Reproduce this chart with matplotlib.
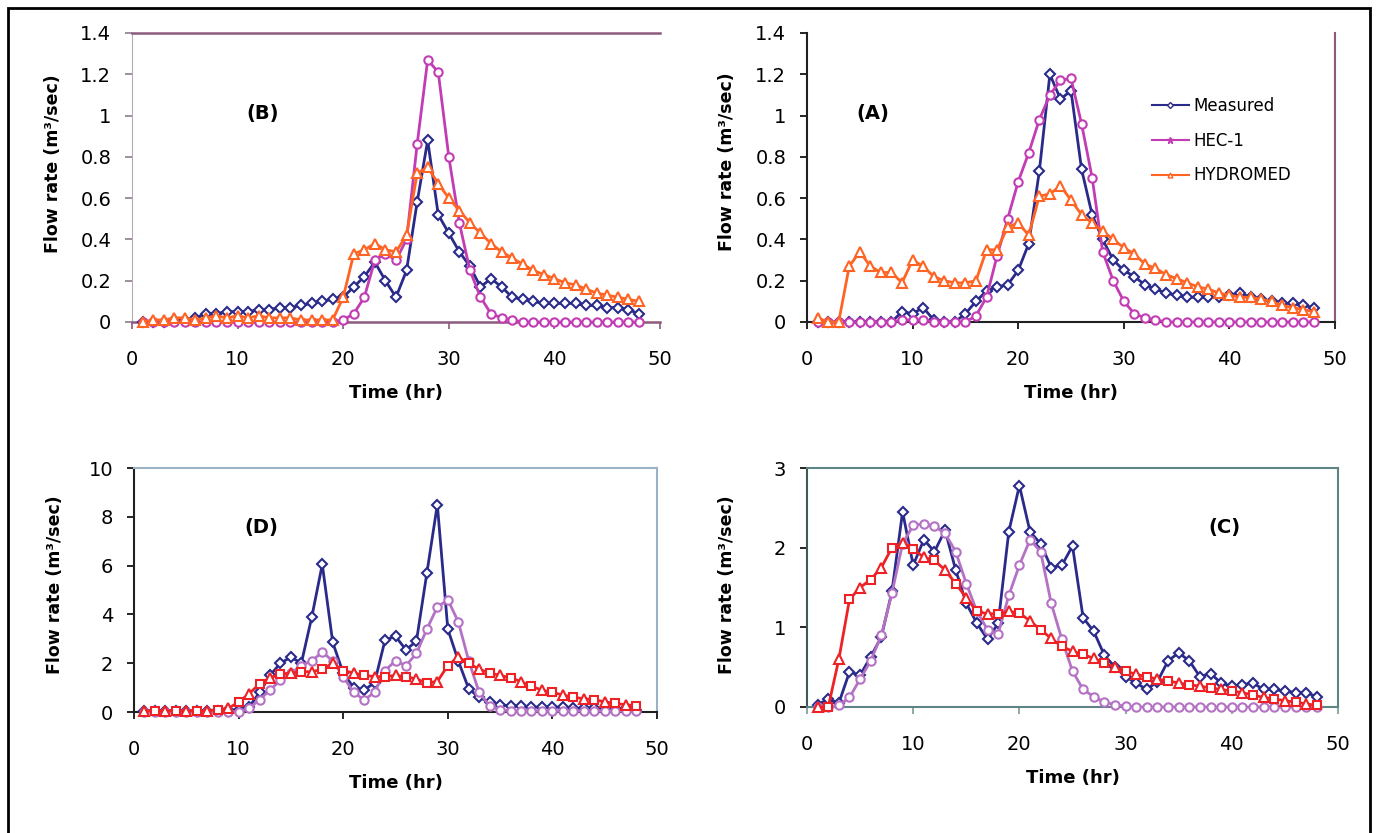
import numpy as np
import matplotlib
matplotlib.use('Agg')
import matplotlib.pyplot as plt
from matplotlib.lines import Line2D

plt.rcParams['font.family'] = ['DejaVu Sans']

time = np.arange(1, 49)

# (B) top left
b_measured = [0.00, 0.00, 0.00, 0.01, 0.01, 0.02, 0.04, 0.04, 0.05, 0.05,
              0.05, 0.06, 0.06, 0.07, 0.07, 0.08, 0.09, 0.10, 0.11, 0.12,
              0.17, 0.22, 0.29, 0.20, 0.12, 0.25, 0.58, 0.88, 0.52, 0.43,
              0.34, 0.27, 0.17, 0.21, 0.17, 0.12, 0.11, 0.10, 0.09, 0.09,
              0.09, 0.09, 0.08, 0.08, 0.07, 0.07, 0.06, 0.04]
b_hec = [0.00] * 19 + [0.01, 0.04, 0.12, 0.30, 0.33, 0.30, 0.40, 0.86, 1.27, 1.21,
                       0.80, 0.48, 0.25, 0.12, 0.04, 0.02, 0.01] + [0.00] * 12
b_hydromed = [0.00, 0.01, 0.01, 0.02, 0.02, 0.01, 0.02, 0.03, 0.02, 0.03,
              0.02, 0.03, 0.02, 0.02, 0.02, 0.01, 0.01, 0.01, 0.01, 0.12,
              0.33, 0.35, 0.38, 0.35, 0.34, 0.42, 0.72, 0.75, 0.67, 0.60,
              0.54, 0.48, 0.43, 0.38, 0.34, 0.31, 0.28, 0.25, 0.23, 0.21,
              0.19, 0.18, 0.16, 0.14, 0.13, 0.12, 0.11, 0.10]

# (A) top right
a_measured = [0.00] * 8 + [0.05, 0.04, 0.07, 0.01, 0.00, 0.00, 0.04, 0.10, 0.15, 0.17,
                           0.18, 0.25, 0.38, 0.73, 1.20, 1.08, 1.12, 0.74, 0.52, 0.40,
                           0.30, 0.25, 0.22, 0.18, 0.16, 0.14, 0.13, 0.12, 0.12, 0.12,
                           0.12, 0.13, 0.14, 0.12, 0.11, 0.10, 0.09, 0.09, 0.08, 0.07]
a_hec = [0.00] * 8 + [0.01, 0.01, 0.01, 0.00, 0.00, 0.00, 0.00, 0.03, 0.12, 0.32,
                      0.50, 0.68, 0.82, 0.98, 1.10, 1.17, 1.18, 0.96, 0.70, 0.34,
                      0.20, 0.10, 0.04, 0.02, 0.01] + [0.00] * 15
a_hydromed = [0.02, 0.00, 0.00, 0.27, 0.34, 0.27, 0.24, 0.24, 0.19, 0.30,
              0.27, 0.22, 0.20, 0.19, 0.19, 0.20, 0.35, 0.35, 0.46, 0.48,
              0.42, 0.61, 0.62, 0.66, 0.59, 0.52, 0.48, 0.44, 0.40, 0.36,
              0.33, 0.28, 0.26, 0.23, 0.21, 0.19, 0.17, 0.16, 0.14, 0.13,
              0.12, 0.12, 0.11, 0.10, 0.08, 0.07, 0.06, 0.05]

# (D) bottom left
d_measured = [0.05, 0.05, 0.05, 0.05, 0.05, 0.05, 0.05, 0.05, 0.08, 0.10,
              0.20, 0.80, 1.50, 2.00, 2.25, 2.00, 3.90, 6.05, 2.85, 1.60,
              1.00, 0.90, 1.20, 2.95, 3.10, 2.55, 2.90, 5.70, 8.50, 3.40,
              2.10, 0.95, 0.60, 0.40, 0.30, 0.25, 0.25, 0.20, 0.20, 0.20,
              0.20, 0.15, 0.15, 0.15, 0.15, 0.15, 0.15, 0.10]
d_hec = [0.00] * 9 + [0.02, 0.15, 0.50, 0.90, 1.30, 1.60, 1.90, 2.10, 2.45, 2.10,
                      1.45, 0.80, 0.50, 0.80, 1.70, 2.10, 1.90, 2.40, 3.40, 4.30,
                      4.60, 3.70, 2.10, 0.80, 0.25, 0.10] + [0.05] * 13
d_hydromed = [0.05, 0.05, 0.05, 0.05, 0.05, 0.05, 0.05, 0.10, 0.15, 0.40,
              0.75, 1.15, 1.40, 1.55, 1.60, 1.65, 1.65, 1.75, 2.00, 1.70,
              1.60, 1.50, 1.45, 1.45, 1.50, 1.45, 1.35, 1.20, 1.25, 1.90,
              2.25, 2.00, 1.75, 1.60, 1.50, 1.40, 1.25, 1.05, 0.90, 0.80,
              0.70, 0.60, 0.55, 0.50, 0.42, 0.35, 0.30, 0.25]

# (C) bottom right
c_measured = [0.03, 0.10, 0.05, 0.44, 0.40, 0.63, 0.88, 1.45, 2.45, 1.78,
              2.10, 1.95, 2.22, 1.72, 1.30, 1.05, 0.85, 1.05, 2.20, 2.78,
              2.20, 2.05, 1.75, 1.78, 2.02, 1.12, 0.95, 0.65, 0.50, 0.38,
              0.30, 0.22, 0.32, 0.58, 0.68, 0.58, 0.38, 0.42, 0.30, 0.26,
              0.28, 0.30, 0.22, 0.22, 0.20, 0.18, 0.18, 0.13]
c_hec = [0.00, 0.00, 0.02, 0.12, 0.35, 0.58, 0.90, 1.43, 2.05, 2.28,
         2.30, 2.27, 2.18, 1.95, 1.55, 1.20, 0.97, 0.92, 1.40, 1.78,
         2.10, 1.95, 1.30, 0.85, 0.45, 0.22, 0.13, 0.06, 0.03, 0.01] + [0.00] * 18
c_hydromed = [0.00, 0.00, 0.60, 1.35, 1.50, 1.60, 1.75, 2.00, 2.06, 1.98,
              1.88, 1.84, 1.72, 1.55, 1.37, 1.20, 1.17, 1.17, 1.20, 1.18,
              1.08, 0.97, 0.86, 0.76, 0.70, 0.66, 0.61, 0.55, 0.50, 0.45,
              0.41, 0.38, 0.35, 0.33, 0.30, 0.28, 0.26, 0.24, 0.22, 0.20,
              0.18, 0.15, 0.12, 0.10, 0.08, 0.06, 0.04, 0.02]

series_names = ['Measured', 'HEC-1', 'HYDROMED']

navy = '#2a2a8a'
magenta = '#c23cb4'
orange = '#ff6424'
violet = '#b472c4'
red = '#ee2226'
maroon = '#8c5a7c'

W, H = 1378, 833
fig = plt.figure(figsize=(W / 100, H / 100), dpi=100)


def px_axes(left, top, right, bottom):
    return fig.add_axes([left / W, 1 - bottom / H, (right - left) / W, (bottom - top) / H])


def draw(ax, meas, hec, hyd, hec_col, hyd_col, mixed=False):
    ax.plot(time, meas, '-', color=navy, lw=2, marker='D', ms=5.5,
            mfc='white', mec=navy, mew=1.5, clip_on=False, zorder=3)
    ax.plot(time, hec, '-', color=hec_col, lw=2, marker='o', ms=6,
            mfc='white', mec=hec_col, mew=1.5, clip_on=False, zorder=3)
    if mixed:
        ax.plot(time, hyd, '-', color=hyd_col, lw=2, marker='^', ms=6.5,
                mfc='white', mec=hyd_col, mew=1.5, markevery=(0, 2), clip_on=False, zorder=4)
        ax.plot(time, hyd, 'none', marker='s', ms=5.5, mfc='white', mec=hyd_col,
                mew=1.5, markevery=(1, 2), clip_on=False, zorder=4)
    else:
        ax.plot(time, hyd, '-', color=hyd_col, lw=2, marker='^', ms=6.5,
                mfc='white', mec=hyd_col, mew=1.5, clip_on=False, zorder=4)
    ax.set_xlim(0, 50)
    ax.set_xticks(range(0, 51, 10))
    ax.tick_params(direction='out', length=5, width=1.2, labelsize=14)
    ax.tick_params(axis='x', pad=15)
    ax.tick_params(axis='y', pad=10)
    ax.set_xlabel('Time (hr)', fontsize=13, fontweight='bold', labelpad=11)
    ax.set_ylabel('Flow rate (m³/sec)', fontsize=12.5, fontweight='bold')


def fmt(v):
    return f'{v:g}'


# (B)
axB = px_axes(132, 33, 660, 322)
draw(axB, b_measured, b_hec, b_hydromed, magenta, orange)
axB.set_ylim(0, 1.4)
axB.set_yticks(np.arange(0, 1.41, 0.2))
axB.set_yticklabels([fmt(round(v, 1)) for v in np.arange(0, 1.41, 0.2)])
axB.spines['right'].set_visible(False)
axB.spines['top'].set_color(maroon)
axB.spines['top'].set_linewidth(1.8)
axB.spines['bottom'].set_color(maroon)
axB.spines['bottom'].set_linewidth(1.8)
axB.spines['left'].set_color('#b8a8b8')
axB.tick_params(axis='x', color=maroon)
axB.tick_params(axis='y', color='#8c7c8c')
axB.yaxis.set_label_coords(-0.133, 0.547)
axB.text(12.4, 1.01, '(B)', fontsize=14, fontweight='bold', ha='center', va='center')

# (A)
axA = px_axes(807, 33, 1335, 322)
draw(axA, a_measured, a_hec, a_hydromed, magenta, orange)
axA.set_ylim(0, 1.4)
axA.set_yticks(np.arange(0, 1.41, 0.2))
axA.set_yticklabels([fmt(round(v, 1)) for v in np.arange(0, 1.41, 0.2)])
axA.spines['top'].set_visible(False)
axA.spines['right'].set_color(maroon)
axA.spines['right'].set_linewidth(1.5)
axA.spines['left'].set_color('#202020')
axA.spines['left'].set_linewidth(1.5)
axA.spines['bottom'].set_color('#202020')
axA.spines['bottom'].set_linewidth(1.5)
axA.yaxis.set_label_coords(-0.134, 0.554)
axA.text(6.2, 1.01, '(A)', fontsize=14, fontweight='bold', ha='center', va='center')
handles = [Line2D([], [], color=navy, lw=1.5, marker='D', ms=3, mfc='white', mec=navy),
           Line2D([], [], color=magenta, lw=1.5, marker='*', ms=5, mfc=magenta, mec=magenta),
           Line2D([], [], color=orange, lw=1.5, marker='^', ms=3.5, mfc='white', mec=orange)]
axA.legend(handles, series_names, loc='upper left', bbox_to_anchor=(0.625, 0.83),
           frameon=False, fontsize=12, handlelength=2.2, handletextpad=0.3,
           labelspacing=1.0)

# (D)
axD = px_axes(134, 468, 657, 712)
draw(axD, d_measured, d_hec, d_hydromed, violet, red, mixed=True)
axD.set_ylim(0, 10)
axD.set_yticks(range(0, 11, 2))
for side in ['top', 'right']:
    axD.spines[side].set_color('#9ab2c4')
    axD.spines[side].set_linewidth(1.5)
axD.spines['left'].set_color('#202020')
axD.spines['left'].set_linewidth(1.5)
axD.spines['bottom'].set_color('#202020')
axD.spines['bottom'].set_linewidth(1.5)
axD.yaxis.set_label_coords(-0.134, 0.52)
axD.text(12.2, 7.55, '(D)', fontsize=14, fontweight='bold', ha='center', va='center')

# (C)
axC = px_axes(807, 468, 1338, 707)
draw(axC, c_measured, c_hec, c_hydromed, violet, red, mixed=True)
axC.set_ylim(0, 3)
axC.set_yticks(range(0, 4))
for side in ['top', 'right', 'bottom']:
    axC.spines[side].set_color('#5f8484')
    axC.spines[side].set_linewidth(1.5)
axC.spines['left'].set_color('#405858')
axC.spines['left'].set_linewidth(1.5)
axC.tick_params(axis='x', color='#7a9a9a')
axC.yaxis.set_label_coords(-0.133, 0.51)
axC.text(39.3, 2.25, '(C)', fontsize=14, fontweight='bold', ha='center', va='center')

# outer frame
fig.add_artist(plt.Rectangle((8 / W, -0.02), (1370 - 8) / W, 1.02 - 8 / H,
                             transform=fig.transFigure, fill=False, lw=2, ec='black'))

fig.savefig('out.png', dpi=100)
